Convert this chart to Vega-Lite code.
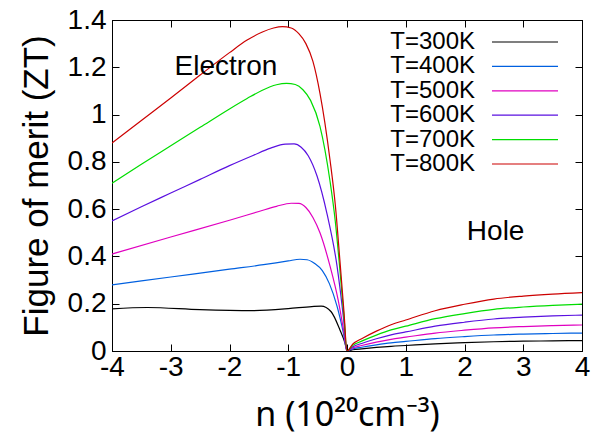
{
  "$schema": "https://vega.github.io/schema/vega-lite/v6.json",
  "width": 470,
  "height": 331,
  "autosize": "none",
  "padding": {"left": 112, "top": 20, "right": 24, "bottom": 86},
  "background": "white",
  "config": {
    "font": "Liberation Sans",
    "view": {"stroke": "black", "strokeWidth": 1},
    "axis": {
      "grid": false,
      "domainColor": "black",
      "domainWidth": 1,
      "tickColor": "black",
      "tickWidth": 1,
      "tickSize": -7,
      "labelColor": "black",
      "labelFont": "Liberation Sans",
      "labelFontSize": 28,
      "labelFlush": false,
      "labelOverlap": false,
      "titleColor": "black",
      "titleFont": "Liberation Sans",
      "titleFontWeight": "normal"
    }
  },
  "datasets": {
    "curves": [
      {"T": "T=300K", "n": -4, "ZT": 0.178},
      {"T": "T=300K", "n": -3.4, "ZT": 0.184},
      {"T": "T=300K", "n": -2.5, "ZT": 0.175},
      {"T": "T=300K", "n": -1.6, "ZT": 0.171},
      {"T": "T=300K", "n": -1, "ZT": 0.179},
      {"T": "T=300K", "n": -0.6, "ZT": 0.188},
      {"T": "T=300K", "n": -0.44, "ZT": 0.19},
      {"T": "T=300K", "n": -0.27, "ZT": 0.166},
      {"T": "T=300K", "n": -0.12, "ZT": 0.089},
      {"T": "T=300K", "n": -0.03, "ZT": 0.03},
      {"T": "T=300K", "n": 0, "ZT": 0},
      {"T": "T=300K", "n": 0.1, "ZT": 0.0053},
      {"T": "T=300K", "n": 0.25, "ZT": 0.0092},
      {"T": "T=300K", "n": 0.5, "ZT": 0.015},
      {"T": "T=300K", "n": 0.75, "ZT": 0.0198},
      {"T": "T=300K", "n": 1, "ZT": 0.0233},
      {"T": "T=300K", "n": 1.5, "ZT": 0.0304},
      {"T": "T=300K", "n": 2, "ZT": 0.0352},
      {"T": "T=300K", "n": 2.5, "ZT": 0.0392},
      {"T": "T=300K", "n": 3, "ZT": 0.0414},
      {"T": "T=300K", "n": 3.5, "ZT": 0.0429},
      {"T": "T=300K", "n": 4, "ZT": 0.044},

      {"T": "T=400K", "n": -4, "ZT": 0.28},
      {"T": "T=400K", "n": -3, "ZT": 0.313},
      {"T": "T=400K", "n": -2, "ZT": 0.346},
      {"T": "T=400K", "n": -1.42, "ZT": 0.365},
      {"T": "T=400K", "n": -1, "ZT": 0.381},
      {"T": "T=400K", "n": -0.8, "ZT": 0.388},
      {"T": "T=400K", "n": -0.68, "ZT": 0.386},
      {"T": "T=400K", "n": -0.55, "ZT": 0.37},
      {"T": "T=400K", "n": -0.42, "ZT": 0.34},
      {"T": "T=400K", "n": -0.3, "ZT": 0.285},
      {"T": "T=400K", "n": -0.17, "ZT": 0.19},
      {"T": "T=400K", "n": -0.06, "ZT": 0.075},
      {"T": "T=400K", "n": 0, "ZT": 0},
      {"T": "T=400K", "n": 0.1, "ZT": 0.0091},
      {"T": "T=400K", "n": 0.25, "ZT": 0.016},
      {"T": "T=400K", "n": 0.5, "ZT": 0.0258},
      {"T": "T=400K", "n": 0.75, "ZT": 0.0342},
      {"T": "T=400K", "n": 1, "ZT": 0.0403},
      {"T": "T=400K", "n": 1.5, "ZT": 0.0524},
      {"T": "T=400K", "n": 2, "ZT": 0.0608},
      {"T": "T=400K", "n": 2.5, "ZT": 0.0676},
      {"T": "T=400K", "n": 3, "ZT": 0.0714},
      {"T": "T=400K", "n": 3.5, "ZT": 0.0741},
      {"T": "T=400K", "n": 4, "ZT": 0.076},

      {"T": "T=500K", "n": -4, "ZT": 0.41},
      {"T": "T=500K", "n": -3, "ZT": 0.482},
      {"T": "T=500K", "n": -2, "ZT": 0.553},
      {"T": "T=500K", "n": -1.5, "ZT": 0.59},
      {"T": "T=500K", "n": -1.2, "ZT": 0.612},
      {"T": "T=500K", "n": -0.95, "ZT": 0.625},
      {"T": "T=500K", "n": -0.82, "ZT": 0.624},
      {"T": "T=500K", "n": -0.7, "ZT": 0.607},
      {"T": "T=500K", "n": -0.58, "ZT": 0.565},
      {"T": "T=500K", "n": -0.46, "ZT": 0.5},
      {"T": "T=500K", "n": -0.29, "ZT": 0.36},
      {"T": "T=500K", "n": -0.15, "ZT": 0.215},
      {"T": "T=500K", "n": -0.06, "ZT": 0.09},
      {"T": "T=500K", "n": 0, "ZT": 0},
      {"T": "T=500K", "n": 0.1, "ZT": 0.0132},
      {"T": "T=500K", "n": 0.25, "ZT": 0.0231},
      {"T": "T=500K", "n": 0.5, "ZT": 0.0374},
      {"T": "T=500K", "n": 0.75, "ZT": 0.0495},
      {"T": "T=500K", "n": 1, "ZT": 0.0583},
      {"T": "T=500K", "n": 1.5, "ZT": 0.0759},
      {"T": "T=500K", "n": 2, "ZT": 0.088},
      {"T": "T=500K", "n": 2.5, "ZT": 0.0979},
      {"T": "T=500K", "n": 3, "ZT": 0.1034},
      {"T": "T=500K", "n": 3.5, "ZT": 0.1073},
      {"T": "T=500K", "n": 4, "ZT": 0.11},

      {"T": "T=600K", "n": -4, "ZT": 0.55},
      {"T": "T=600K", "n": -3.5, "ZT": 0.61},
      {"T": "T=600K", "n": -3, "ZT": 0.668},
      {"T": "T=600K", "n": -2.5, "ZT": 0.726},
      {"T": "T=600K", "n": -2, "ZT": 0.784},
      {"T": "T=600K", "n": -1.6, "ZT": 0.827},
      {"T": "T=600K", "n": -1.3, "ZT": 0.858},
      {"T": "T=600K", "n": -1.05, "ZT": 0.875},
      {"T": "T=600K", "n": -0.9, "ZT": 0.876},
      {"T": "T=600K", "n": -0.78, "ZT": 0.862},
      {"T": "T=600K", "n": -0.66, "ZT": 0.826},
      {"T": "T=600K", "n": -0.51, "ZT": 0.74},
      {"T": "T=600K", "n": -0.34, "ZT": 0.58},
      {"T": "T=600K", "n": -0.17, "ZT": 0.36},
      {"T": "T=600K", "n": -0.06, "ZT": 0.14},
      {"T": "T=600K", "n": 0, "ZT": 0},
      {"T": "T=600K", "n": 0.1, "ZT": 0.0182},
      {"T": "T=600K", "n": 0.25, "ZT": 0.0319},
      {"T": "T=600K", "n": 0.5, "ZT": 0.0517},
      {"T": "T=600K", "n": 0.75, "ZT": 0.0684},
      {"T": "T=600K", "n": 1, "ZT": 0.0806},
      {"T": "T=600K", "n": 1.5, "ZT": 0.1049},
      {"T": "T=600K", "n": 2, "ZT": 0.1216},
      {"T": "T=600K", "n": 2.5, "ZT": 0.1353},
      {"T": "T=600K", "n": 3, "ZT": 0.1429},
      {"T": "T=600K", "n": 3.5, "ZT": 0.1482},
      {"T": "T=600K", "n": 4, "ZT": 0.152},

      {"T": "T=700K", "n": -4, "ZT": 0.71},
      {"T": "T=700K", "n": -3.5, "ZT": 0.79},
      {"T": "T=700K", "n": -3, "ZT": 0.868},
      {"T": "T=700K", "n": -2.5, "ZT": 0.946},
      {"T": "T=700K", "n": -2, "ZT": 1.024},
      {"T": "T=700K", "n": -1.7, "ZT": 1.068},
      {"T": "T=700K", "n": -1.45, "ZT": 1.102},
      {"T": "T=700K", "n": -1.2, "ZT": 1.126},
      {"T": "T=700K", "n": -1.03, "ZT": 1.132},
      {"T": "T=700K", "n": -0.88, "ZT": 1.127},
      {"T": "T=700K", "n": -0.75, "ZT": 1.105},
      {"T": "T=700K", "n": -0.62, "ZT": 1.06},
      {"T": "T=700K", "n": -0.46, "ZT": 0.95},
      {"T": "T=700K", "n": -0.29, "ZT": 0.72},
      {"T": "T=700K", "n": -0.2, "ZT": 0.55},
      {"T": "T=700K", "n": -0.12, "ZT": 0.34},
      {"T": "T=700K", "n": -0.05, "ZT": 0.14},
      {"T": "T=700K", "n": 0, "ZT": 0},
      {"T": "T=700K", "n": 0.1, "ZT": 0.0238},
      {"T": "T=700K", "n": 0.25, "ZT": 0.0416},
      {"T": "T=700K", "n": 0.5, "ZT": 0.0673},
      {"T": "T=700K", "n": 0.75, "ZT": 0.0891},
      {"T": "T=700K", "n": 1, "ZT": 0.1049},
      {"T": "T=700K", "n": 1.5, "ZT": 0.1366},
      {"T": "T=700K", "n": 2, "ZT": 0.1584},
      {"T": "T=700K", "n": 2.5, "ZT": 0.1762},
      {"T": "T=700K", "n": 3, "ZT": 0.1861},
      {"T": "T=700K", "n": 3.5, "ZT": 0.1931},
      {"T": "T=700K", "n": 4, "ZT": 0.198},

      {"T": "T=800K", "n": -4, "ZT": 0.88},
      {"T": "T=800K", "n": -3.5, "ZT": 0.975},
      {"T": "T=800K", "n": -3, "ZT": 1.07},
      {"T": "T=800K", "n": -2.5, "ZT": 1.167},
      {"T": "T=800K", "n": -2, "ZT": 1.262},
      {"T": "T=800K", "n": -1.7, "ZT": 1.315},
      {"T": "T=800K", "n": -1.45, "ZT": 1.348},
      {"T": "T=800K", "n": -1.25, "ZT": 1.366},
      {"T": "T=800K", "n": -1.1, "ZT": 1.372},
      {"T": "T=800K", "n": -0.95, "ZT": 1.366},
      {"T": "T=800K", "n": -0.82, "ZT": 1.342},
      {"T": "T=800K", "n": -0.7, "ZT": 1.3},
      {"T": "T=800K", "n": -0.58, "ZT": 1.225},
      {"T": "T=800K", "n": -0.46, "ZT": 1.09},
      {"T": "T=800K", "n": -0.29, "ZT": 0.81},
      {"T": "T=800K", "n": -0.2, "ZT": 0.62},
      {"T": "T=800K", "n": -0.12, "ZT": 0.38},
      {"T": "T=800K", "n": -0.05, "ZT": 0.16},
      {"T": "T=800K", "n": 0, "ZT": 0},
      {"T": "T=800K", "n": 0.1, "ZT": 0.0296},
      {"T": "T=800K", "n": 0.25, "ZT": 0.0519},
      {"T": "T=800K", "n": 0.5, "ZT": 0.084},
      {"T": "T=800K", "n": 0.75, "ZT": 0.1112},
      {"T": "T=800K", "n": 1, "ZT": 0.1309},
      {"T": "T=800K", "n": 1.5, "ZT": 0.1704},
      {"T": "T=800K", "n": 2, "ZT": 0.1976},
      {"T": "T=800K", "n": 2.5, "ZT": 0.2198},
      {"T": "T=800K", "n": 3, "ZT": 0.2322},
      {"T": "T=800K", "n": 3.5, "ZT": 0.2408},
      {"T": "T=800K", "n": 4, "ZT": 0.247}
    ],
    "notes": [
      {"label": "Electron", "n": -2.06, "ZT": 1.2},
      {"label": "Hole", "n": 2.53, "ZT": 0.503}
    ]
  },
  "layer": [
    {
      "data": {"name": "curves"},
      "mark": {"type": "line", "strokeWidth": 1.2, "interpolate": "monotone", "clip": true},
      "encoding": {
        "x": {
          "field": "n", "type": "quantitative",
          "scale": {"domain": [-4, 4], "nice": false, "zero": false},
          "axis": {
            "orient": "bottom",
            "values": [-4, -3, -2, -1, 0, 1, 2, 3, 4],
            "labelExpr": "'' + datum.value",
            "labelPadding": 9,
            "title": "n (10²⁰cm⁻³)",
            "titleFont": "Noto Sans",
            "titleFontSize": 34,
            "titlePadding": 17
          }
        },
        "y": {
          "field": "ZT", "type": "quantitative",
          "scale": {"domain": [0, 1.4], "nice": false},
          "axis": {
            "orient": "left",
            "values": [0, 0.2, 0.4, 0.6, 0.8, 1, 1.2, 1.4],
            "labelExpr": "'' + datum.value",
            "labelPadding": 13,
            "title": "Figure of merit (ZT)",
            "titleFontSize": 35,
            "titlePadding": 13
          }
        },
        "color": {
          "field": "T", "type": "nominal",
          "scale": {
            "domain": ["T=300K", "T=400K", "T=500K", "T=600K", "T=700K", "T=800K"],
            "range": ["#000000", "#0060e0", "#e000c0", "#5a10e0", "#00dd00", "#cc0000"]
          },
          "legend": {
            "orient": "none",
            "legendX": 401,
            "legendY": 10,
            "title": null,
            "padding": 0,
            "symbolType": "M-3,0H3",
            "symbolSize": 484,
            "symbolStrokeWidth": 1.2,
            "symbolFillColor": "transparent",
            "labelFont": "Liberation Sans",
            "labelFontSize": 24,
            "labelColor": "black",
            "labelAlign": "right",
            "labelOffset": -62,
            "rowPadding": 0.4
          }
        }
      }
    },
    {
      "data": {"name": "notes"},
      "mark": {"type": "text", "fontSize": 28, "font": "Liberation Sans", "color": "black", "align": "center", "baseline": "middle"},
      "encoding": {
        "x": {
          "field": "n", "type": "quantitative",
          "axis": {"orient": "top", "values": [-4, -3, -2, -1, 0, 1, 2, 3, 4], "labels": false, "title": null}
        },
        "y": {
          "field": "ZT", "type": "quantitative",
          "axis": {"orient": "right", "values": [0, 0.2, 0.4, 0.6, 0.8, 1, 1.2, 1.4], "labels": false, "title": null}
        },
        "text": {"field": "label"}
      }
    }
  ],
  "resolve": {"axis": {"x": "independent", "y": "independent"}}
}
